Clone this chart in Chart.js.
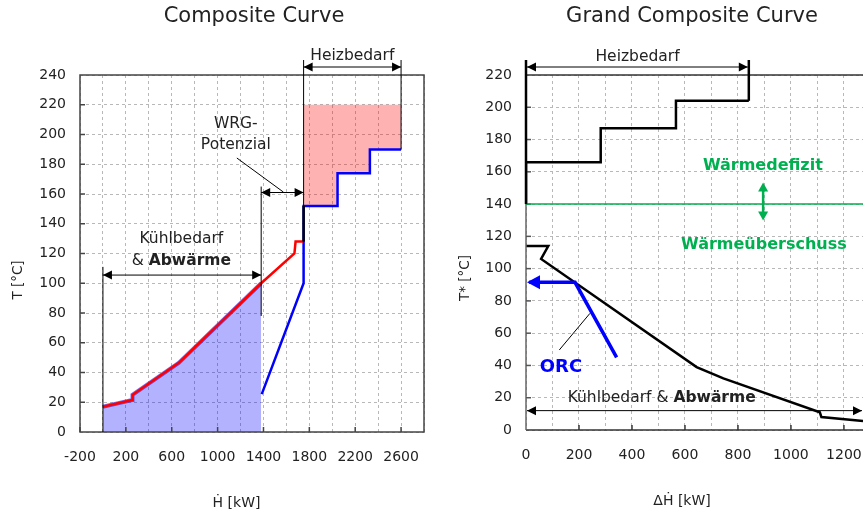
<!DOCTYPE html>
<html>
<head>
<meta charset="utf-8">
<script src="https://cdn.jsdelivr.net/npm/chart.js@4.4.1/dist/chart.umd.min.js"></script>
<style>
  html, body { margin: 0; padding: 0; background: #fff; overflow: hidden; }
  #wrap { position: relative; width: 863px; height: 515px; }
  canvas { position: absolute; top: 0; }
  #compositeChart { left: 0; }
  #grandChart { left: 430px; }
</style>
</head>
<body>
<div id="wrap">
  <canvas id="compositeChart" width="430" height="515"></canvas>
  <canvas id="grandChart" width="433" height="515"></canvas>
</div>
<script>
// Composite Curve (Ḣ in kW, T in °C)
const hotH = [0, 255, 258, 661, 1380, 1670, 1680, 1745];
const hotT = [17, 21.5, 25, 46.5, 100, 120, 128, 128];
const coldH = [1385, 1750, 1750, 2046, 2046, 2328, 2328, 2600];
const coldT = [25.5, 100, 152, 152, 174, 174, 190, 190];
const compXLabels = [-200, 200, 600, 1000, 1400, 1800, 2200, 2600];

// Grand Composite Curve (ΔḢ in kW, T* in °C)
const gccUpperH = [0, 0, 282, 282, 566, 566, 841];
const gccUpperT = [140, 166, 166, 187, 187, 204, 204];
const gccLowerH = [0, 84, 57, 644, 745, 1109, 1115, 1272];
const gccLowerT = [114, 114, 106, 39, 32, 11, 8, 5.5];
const orcH = [342, 185, 12];
const orcT = [45, 91.5, 91.5];
const gccXLabels = [0, 200, 400, 600, 800, 1000, 1200];
const pinchT = 140;

const FONT = '"DejaVu Sans", Verdana, sans-serif';
const GREEN = '#00b050';

Chart.defaults.font.family = FONT;
Chart.defaults.font.size = 14;
Chart.defaults.color = '#222';

function pts(hs, ts) {
    return hs.map((h, i) => ({ x: h, y: ts[i] }));
}

function line(ctx, x1, y1, x2, y2, color, width) {
    ctx.beginPath();
    ctx.moveTo(x1, y1);
    ctx.lineTo(x2, y2);
    ctx.strokeStyle = color;
    ctx.lineWidth = width;
    ctx.stroke();
}

function head(ctx, x, y, angle, len, half, color) {
    ctx.save();
    ctx.translate(x, y);
    ctx.rotate(angle);
    ctx.beginPath();
    ctx.moveTo(0, 0);
    ctx.lineTo(-len, -half);
    ctx.lineTo(-len, half);
    ctx.closePath();
    ctx.fillStyle = color;
    ctx.fill();
    ctx.restore();
}

function dimArrow(ctx, x1, y, x2, color) {
    line(ctx, x1, y, x2, y, color, 1);
    head(ctx, x1, y, Math.PI, 9, 4.5, color);
    head(ctx, x2, y, 0, 9, 4.5, color);
}

function text(ctx, str, cx, cy, size, color, bold) {
    ctx.font = (bold ? 'bold ' : '') + size + 'px ' + FONT;
    ctx.fillStyle = color;
    ctx.textAlign = 'center';
    ctx.textBaseline = 'middle';
    ctx.fillText(str, cx, cy);
}

function mixed(ctx, parts, cx, cy, size, color) {
    let total = 0;
    parts.forEach(p => {
        ctx.font = (p[1] ? 'bold ' : '') + size + 'px ' + FONT;
        total += ctx.measureText(p[0]).width;
    });
    let x0 = cx - total / 2;
    ctx.fillStyle = color;
    ctx.textAlign = 'left';
    ctx.textBaseline = 'middle';
    parts.forEach(p => {
        ctx.font = (p[1] ? 'bold ' : '') + size + 'px ' + FONT;
        ctx.fillText(p[0], x0, cy);
        x0 += ctx.measureText(p[0]).width;
    });
}

function vText(ctx, str, cx, cy, size) {
    ctx.save();
    ctx.translate(cx, cy);
    ctx.rotate(-Math.PI / 2);
    text(ctx, str, 0, 0, size, '#222');
    ctx.restore();
}

function baseOptions(xMin, xMax, xStep, xLabels, yMax, padRight, yWidth, xHeight) {
    return {
        responsive: false,
        animation: false,
        layout: { padding: { left: 0, right: padRight, top: 75, bottom: 0 } },
        plugins: { legend: { display: false }, tooltip: { enabled: false } },
        elements: { point: { radius: 0 }, line: { tension: 0 } },
        scales: {
            x: {
                type: 'linear',
                min: xMin,
                max: xMax,
                afterFit: s => { s.height = xHeight; s.paddingLeft = 0; s.paddingRight = 0; },
                grid: { color: '#b8b8b8', lineWidth: 1, drawTicks: false },
                border: { display: false, dash: [3, 3] },
                ticks: {
                    stepSize: xStep,
                    autoSkip: false,
                    maxRotation: 0,
                    includeBounds: false,
                    padding: 17,
                    font: { size: 14 },
                    callback: v => xLabels.includes(v) ? String(v) : ''
                }
            },
            y: {
                min: 0,
                max: yMax,
                afterFit: s => { s.width = yWidth; s.paddingTop = 0; s.paddingBottom = 0; },
                grid: { color: '#b8b8b8', lineWidth: 1, drawTicks: false },
                border: { display: false, dash: [3, 3] },
                ticks: { stepSize: 20, padding: 14, font: { size: 14 } }
            }
        }
    };
}

const compositeAnnotations = {
    id: 'compositeAnnotations',
    afterDatasetsDraw(chart) {
        const { ctx, chartArea: a, scales: { x, y } } = chart;
        const X = v => x.getPixelForValue(v);
        const Y = v => y.getPixelForValue(v);
        ctx.save();

        // frame and inner ticks
        ctx.strokeStyle = '#444';
        ctx.lineWidth = 1.5;
        ctx.strokeRect(a.left, a.top, a.right - a.left, a.bottom - a.top);
        compXLabels.forEach(v => line(ctx, X(v), a.bottom, X(v), a.bottom - 5, '#444', 1.5));
        for (let t = 20; t < 240; t += 20) line(ctx, a.left, Y(t), a.left + 5, Y(t), '#444', 1.5);

        // Heizbedarf
        const top = a.top - 15;
        line(ctx, X(1750), top, X(1750), Y(152), '#000', 1);
        line(ctx, X(1750), Y(152), X(1750), Y(128), '#000', 2.5);
        line(ctx, X(2600), top, X(2600), Y(190), '#000', 1);
        dimArrow(ctx, X(1750), a.top - 8, X(2600), '#000');
        text(ctx, 'Heizbedarf', (X(1750) + X(2600)) / 2, a.top - 19, 15.5, '#222');

        // WRG-Potenzial
        line(ctx, X(1380), Y(165), X(1380), Y(78), '#000', 1);
        dimArrow(ctx, X(1380), Y(161), X(1750), '#000');
        text(ctx, 'WRG-', X(1159), Y(207), 15.5, '#222');
        text(ctx, 'Potenzial', X(1159), Y(193), 15.5, '#222');
        line(ctx, X(1168), Y(184.2), X(1574), Y(161.3), '#000', 1);

        // Kühlbedarf & Abwärme
        line(ctx, X(0), Y(111), X(0), Y(0), '#000', 1);
        dimArrow(ctx, X(0), Y(105.5), X(1380), '#000');
        text(ctx, 'Kühlbedarf', X(684), Y(129.5), 15.5, '#222');
        mixed(ctx, [['& ', false], ['Abwärme', true]], X(684), Y(115), 15.5, '#222');

        // titles
        text(ctx, 'Composite Curve', 254, 17, 21, '#222');
        text(ctx, 'Ḣ [kW]', X(1165), 503, 14, '#222');
        vText(ctx, 'T [°C]', 18, 280, 13.5);
        ctx.restore();
    }
};

const grandAnnotations = {
    id: 'grandAnnotations',
    afterDatasetsDraw(chart) {
        const { ctx, chartArea: a, scales: { x, y } } = chart;
        const X = v => x.getPixelForValue(v);
        const Y = v => y.getPixelForValue(v);
        ctx.save();

        // axes, top line and inner ticks
        line(ctx, a.left, a.top, a.right, a.top, '#333', 1.5);
        line(ctx, a.left, a.bottom, a.right, a.bottom, '#333', 1.5);
        line(ctx, a.left, a.top, a.left, a.bottom, '#666', 1.5);
        gccXLabels.forEach(v => { if (v > 0) line(ctx, X(v), a.bottom, X(v), a.bottom - 5, '#333', 1.5); });
        for (let t = 20; t < 220; t += 20) line(ctx, a.left, Y(t), a.left + 5, Y(t), '#555', 1.5);

        // pinch line
        line(ctx, a.left, Y(pinchT), a.right, Y(pinchT), GREEN, 1.5);

        // Heizbedarf
        const top = a.top - 15;
        line(ctx, X(0), Y(pinchT), X(0), top, '#000', 2.5);
        line(ctx, X(841), Y(204), X(841), top, '#000', 2.5);
        dimArrow(ctx, X(0) + 1, a.top - 8, X(841) - 1, '#000');
        text(ctx, 'Heizbedarf', X(421), a.top - 18, 15.5, '#222');

        // Wärmedefizit / Wärmeüberschuss
        text(ctx, 'Wärmedefizit', X(894), Y(163.6), 16, GREEN, true);
        text(ctx, 'Wärmeüberschuss', X(898), Y(115), 16, GREEN, true);
        line(ctx, X(895), Y(150.5), X(895), Y(132.5), GREEN, 2.5);
        head(ctx, X(895), Y(153.4), -Math.PI / 2, 9, 5, GREEN);
        head(ctx, X(895), Y(129.9), Math.PI / 2, 9, 5, GREEN);

        // ORC
        head(ctx, X(0) + 1, Y(orcT[2]), Math.PI, 13, 7, '#0000ff');
        line(ctx, X(241.5), Y(72.3), X(125.7), Y(49.6), '#000', 1);
        text(ctx, 'ORC', X(132), Y(38.9), 18, '#0000ff', true);

        // Kühlbedarf & Abwärme
        dimArrow(ctx, X(0) + 1, Y(12), a.right - 1, '#000');
        mixed(ctx, [['Kühlbedarf & ', false], ['Abwärme', true]], X(512), Y(19.8), 15.5, '#222');

        // titles
        text(ctx, 'Grand Composite Curve', 262, 17, 21, '#222');
        text(ctx, 'ΔḢ [kW]', X(589), 501, 14, '#222');
        vText(ctx, 'T* [°C]', 35, 278, 13.5);
        ctx.restore();
    }
};

new Chart(document.getElementById('compositeChart').getContext('2d'), {
    type: 'line',
    data: {
        datasets: [
            {
                label: 'Heiße Verbundkurve',
                data: pts(hotH, hotT),
                borderColor: '#ff0000',
                borderWidth: 2.5,
                fill: false,
                order: 1
            },
            {
                label: 'Kalte Verbundkurve',
                data: pts(coldH, coldT),
                borderColor: '#0000ff',
                borderWidth: 2.5,
                fill: false,
                order: 2
            },
            {
                label: 'Kühlbedarf',
                data: pts(hotH.slice(0, 5), hotT.slice(0, 5)),
                borderColor: 'rgba(70, 40, 230, 0.7)',
                borderWidth: 4,
                backgroundColor: 'rgba(0, 0, 255, 0.3)',
                fill: 'origin',
                order: 3
            },
            {
                label: 'Heizbedarf',
                data: pts(coldH.slice(2), coldT.slice(2)),
                borderWidth: 0,
                backgroundColor: 'rgba(255, 0, 0, 0.3)',
                fill: { value: 220 },
                order: 4
            }
        ]
    },
    options: baseOptions(-200, 2800, 200, compXLabels, 240, 6, 80, 83),
    plugins: [compositeAnnotations]
});

new Chart(document.getElementById('grandChart').getContext('2d'), {
    type: 'line',
    data: {
        datasets: [
            {
                label: 'ORC',
                data: pts(orcH, orcT),
                borderColor: '#0000ff',
                borderWidth: 3.5,
                fill: false,
                order: 1
            },
            {
                label: 'GCC oben',
                data: pts(gccUpperH, gccUpperT),
                borderColor: '#000',
                borderWidth: 2.5,
                fill: false,
                order: 2
            },
            {
                label: 'GCC unten',
                data: pts(gccLowerH, gccLowerT),
                borderColor: '#000',
                borderWidth: 2.5,
                fill: false,
                order: 3
            }
        ]
    },
    options: baseOptions(0, 1272, 100, gccXLabels, 220, 0, 96, 85),
    plugins: [grandAnnotations]
});
</script>
</body>
</html>
